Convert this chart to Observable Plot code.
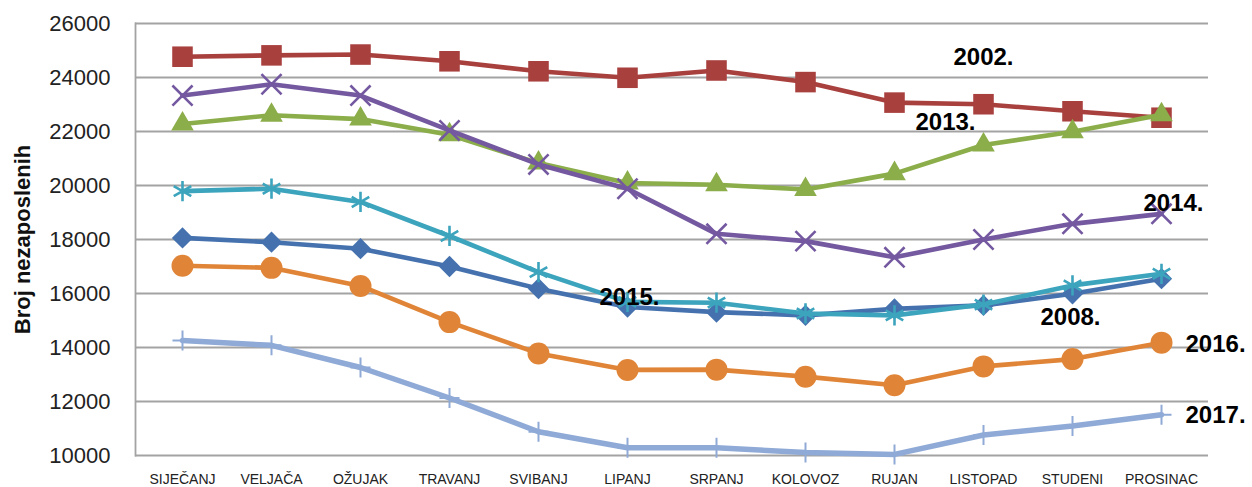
<!DOCTYPE html>
<html>
<head>
<meta charset="utf-8">
<script src="https://cdn.jsdelivr.net/npm/d3@7"></script>
<script src="https://cdn.jsdelivr.net/npm/@observablehq/plot@0.6"></script>
<style>
  html, body { margin: 0; padding: 0; background: #fff; }
  #chart svg { display: block; }
</style>
</head>
<body>
<div id="chart"></div>
<script>
// ---- data ----
const months = ["SIJEČANJ","VELJAČA","OŽUJAK","TRAVANJ","SVIBANJ","LIPANJ","SRPANJ","KOLOVOZ","RUJAN","LISTOPAD","STUDENI","PROSINAC"];
const yTicks = [10000, 12000, 14000, 16000, 18000, 20000, 22000, 24000, 26000];
const yTitle = "Broj nezaposlenih";

const v2008 = [18060, 17900, 17660, 17000, 16180, 15500, 15310, 15190, 15430, 15560, 15990, 16550];
const v2002 = [24770, 24820, 24850, 24600, 24230, 23990, 24260, 23830, 23070, 23010, 22750, 22510];
const v2013 = [22280, 22600, 22460, 21880, 20830, 20090, 20030, 19850, 20440, 21500, 21990, 22620];
const v2014 = [23330, 23750, 23330, 22040, 20780, 19880, 18210, 17940, 17340, 18000, 18580, 18950];
const v2015 = [19790, 19880, 19390, 18130, 16790, 15690, 15660, 15260, 15190, 15590, 16300, 16730];
const v2016 = [17030, 16950, 16280, 14940, 13780, 13170, 13180, 12920, 12600, 13300, 13570, 14180];
const v2017 = [14260, 14080, 13260, 12130, 10880, 10290, 10290, 10110, 10040, 10760, 11090, 11510];

// annotation labels
const labelText   = ["2002.", "2013.", "2014.", "2015.", "2008.", "2016.", "2017."];
const labelMonth  = ["LISTOPAD", "LISTOPAD", "PROSINAC", "LIPANJ", "STUDENI", "PROSINAC", "PROSINAC"];
const labelValue  = [24740, 22330, 19330, 15850, 15110, 14110, 11480];

// ---- series config (drawing order) ----
const series = [
  {name: "2008.", values: v2008, color: "#4572AE", symbol: "diamond2", r: 9.6, filled: true},
  {name: "2002.", values: v2002, color: "#A8403E", symbol: "square",   r: 11.6, filled: true},
  {name: "2013.", values: v2013, color: "#8BAD4A", symbol: "triangle", r: 8.4, filled: true},
  {name: "2014.", values: v2014, color: "#7458A0", symbol: "times",    r: 9.2, filled: false},
  {name: "2015.", values: v2015, color: "#3CA4BC", symbol: "asterisk", r: 9.6, filled: false},
  {name: "2016.", values: v2016, color: "#E08537", symbol: "circle",   r: 11, filled: true},
  {name: "2017.", values: v2017, color: "#8FAAD6", symbol: "plus",     r: 6.5, filled: false}
];

const rows = s => months.map((m, i) => ({month: m, value: s.values[i]}));

const marks = [
  Plot.gridY(yTicks, {stroke: "#A3A3A3", strokeOpacity: 1, strokeWidth: 1.8}),
  Plot.frame({anchor: "left", stroke: "#A3A3A3", strokeWidth: 1.8}),
  Plot.axisY(yTicks, {tickSize: 0, tickPadding: 25, fontSize: 22, tickFormat: d => String(d), label: null, fill: "#222"}),
  Plot.axisX({tickSize: 0, tickPadding: 19, fontSize: 14, label: null, fill: "#222"}),
  Plot.text([yTitle], {frameAnchor: "left", textAnchor: "middle", rotate: -90, dx: -113, fontSize: 22, fontWeight: "bold", fill: "#111", text: d => d})
];

for (const s of series) {
  const d = rows(s);
  marks.push(Plot.line(d, {x: "month", y: "value", stroke: s.color, strokeWidth: s.name === "2017." ? 5.5 : 4.6, strokeLinejoin: "round"}));
  marks.push(Plot.dot(d, s.filled
    ? {x: "month", y: "value", symbol: s.symbol, r: s.r, fill: s.color, stroke: "none"}
    : {x: "month", y: "value", symbol: s.symbol, r: s.r, fill: "none", stroke: s.color, strokeWidth: s.symbol === "plus" ? 2 : 2.6}));
}

const labelOffsets = [
  {dx: 0, anchor: "middle"},
  {dx: -38, anchor: "middle"},
  {dx: 12, anchor: "middle"},
  {dx: 2, anchor: "middle"},
  {dx: -2, anchor: "middle"},
  {dx: 24, anchor: "start"},
  {dx: 24, anchor: "start"}
];
labelText.forEach((t, i) => {
  marks.push(Plot.text([{month: labelMonth[i], value: labelValue[i], t}], {
    x: "month", y: "value", text: "t",
    dx: labelOffsets[i].dx, textAnchor: labelOffsets[i].anchor,
    fontSize: 24, fontWeight: "bold", fill: "#000"
  }));
});

const chart = Plot.plot({
  width: 1252,
  height: 487,
  marginTop: 23,
  marginBottom: 32,
  marginLeft: 135,
  marginRight: 44,
  style: {fontFamily: "'Liberation Sans', Arial, sans-serif", background: "#fff"},
  x: {type: "point", domain: months, padding: 0.5},
  y: {domain: [10000, 26000]},
  marks
});
document.getElementById("chart").appendChild(chart);
</script>
</body>
</html>
